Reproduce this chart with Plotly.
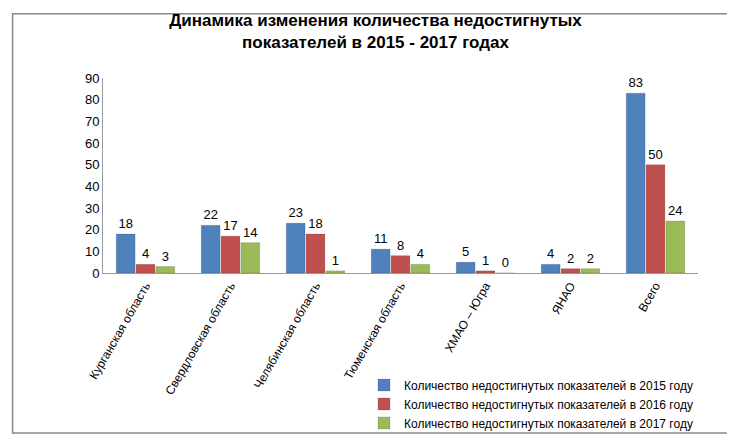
import plotly.graph_objects as go

categories = ["Курганская область", "Свердловская область", "Челябинская область",
              "Тюменская область", "ХМАО – Югра", "ЯНАО", "Всего"]
v2015 = [18, 22, 23, 11, 5, 4, 83]
v2016 = [4, 17, 18, 8, 1, 2, 50]
v2017 = [3, 14, 1, 4, 0, 2, 24]
names = ["Количество недостигнутых показателей в 2015 году",
         "Количество недостигнутых показателей в 2016 году",
         "Количество недостигнутых показателей в 2017 году"]
colors = ["#4F81BD", "#C0504D", "#9BBB59"]

fig = go.Figure()
for vals, n, c in zip([v2015, v2016, v2017], names, colors):
    fig.add_trace(go.Bar(x=categories, y=vals, name=n, marker_color=c,
                         marker_line=dict(color="rgba(0,0,0,0.25)", width=0.5),
                         text=vals, textposition="outside",
                         textfont=dict(size=13, color="#000"), cliponaxis=False))

fig.update_layout(
    width=735, height=441,
    paper_bgcolor="white", plot_bgcolor="white",
    font=dict(family="Liberation Sans, Arial", size=12, color="#000"),
    title=dict(text="<b>Динамика изменения количества недостигнутых<br>показателей в 2015 - 2017 годах</b>",
               x=0.5, xanchor="center", y=0.96, yanchor="top", font=dict(size=17)),
    barmode="group", bargap=0.3, bargroupgap=0.05,
    margin=dict(l=95, r=45, t=70, b=170),
    showlegend=True,
    legend=dict(x=1.0, xanchor="right", y=-0.5, yanchor="top",
                orientation="v", font=dict(size=12), bgcolor="rgba(0,0,0,0)"),
    xaxis=dict(tickangle=-60, showline=True, linecolor="#999", tickfont=dict(size=12)),
    yaxis=dict(range=[0, 90], dtick=10, showline=True, linecolor="#999",
               showgrid=False, ticks="", tickfont=dict(size=13)),
    shapes=[dict(type="rect", xref="paper", yref="paper", x0=-0.152, x1=1.066, y0=-0.82, y1=1.33,
                 line=dict(color="#888", width=1.5))],
)
fig.write_html("out.html")
